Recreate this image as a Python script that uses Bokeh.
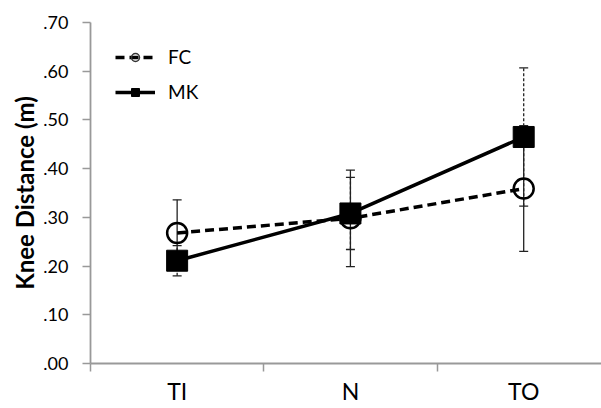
import numpy as np
from bokeh.plotting import figure
from bokeh.models import (ColumnDataSource, Whisker, TeeHead, FixedTicker,
                          Range1d, Legend, LegendItem)
from bokeh.embed import file_html
from bokeh.resources import INLINE

# ---- data ----
categories = ["TI", "N", "TO"]
fc_mean = [0.268, 0.298, 0.359]
fc_err = [0.068, 0.099, 0.129]
mk_mean = [0.211, 0.308, 0.465]
mk_err = [0.031, 0.074, 0.142]
y_ticks = [0.0, 0.1, 0.2, 0.3, 0.4, 0.5, 0.6, 0.7]
y_tick_labels = [".00", ".10", ".20", ".30", ".40", ".50", ".60", ".70"]
y_label = "Knee Distance (m)"

FONT = "Lato"
xs = list(range(len(categories)))

fc_src = ColumnDataSource(dict(
    x=xs, y=fc_mean,
    upper=[m + e for m, e in zip(fc_mean, fc_err)],
    lower=[m - e for m, e in zip(fc_mean, fc_err)]))
mk_src = ColumnDataSource(dict(
    x=xs, y=mk_mean,
    upper=[m + e for m, e in zip(mk_mean, mk_err)],
    lower=[m - e for m, e in zip(mk_mean, mk_err)]))

p = figure(width=601, height=408, output_backend="svg", toolbar_location=None,
           x_range=Range1d(-0.5, 2.449), y_range=Range1d(0, 0.7),
           min_border_left=90, min_border_right=0, min_border_top=22,
           min_border_bottom=45)
p.outline_line_color = None
p.grid.visible = False
p.background_fill_color = "white"

# error bars
for src, dash in ((fc_src, "solid"), (mk_src, "3 2")):
    w = Whisker(source=src, base="x", upper="upper", lower="lower",
                dimension="height", line_color="#222222", line_width=1.3,
                line_dash=dash, level="underlay",
                upper_head=TeeHead(size=9, line_color="#222222", line_width=1.3),
                lower_head=TeeHead(size=9, line_color="#222222", line_width=1.3))
    p.add_layout(w)

# lines
p.line("x", "y", source=fc_src, line_color="black", line_width=3.5,
       line_dash="9 5")
p.line("x", "y", source=mk_src, line_color="black", line_width=3.5)

# markers
p.scatter("x", "y", source=fc_src, marker="circle", size=20,
          fill_color=None, line_color="black", line_width=2.5)
p.scatter("x", "y", source=mk_src, marker="square", size=21,
          fill_color="black", line_color="black")

# legend proxies
nan = np.array([np.nan])
lf = p.line(nan, nan, line_color="black", line_width=3.5, line_dash="9 5")
sf = p.scatter(nan, nan, marker="circle", size=13, fill_color=None,
               line_color="#333333", line_width=1.5)
lm = p.line(nan, nan, line_color="black", line_width=3.5)
sm = p.scatter(nan, nan, marker="square", size=13, fill_color="black",
               line_color="black")
legend = Legend(items=[LegendItem(label="FC", renderers=[lf, sf]),
                       LegendItem(label="MK", renderers=[lm, sm])],
                location=(25, 260), padding=0, margin=0, spacing=12,
                glyph_width=40, glyph_height=20, label_height=20,
                label_standoff=13, border_line_color=None,
                background_fill_alpha=0, label_text_font=FONT,
                label_text_font_size="19px", label_text_color="black")
p.add_layout(legend)

# x axis
xa = p.xaxis[0]
xa.ticker = FixedTicker(ticks=xs, minor_ticks=[-0.5, 0.5, 1.5, 2.5])
xa.major_label_overrides = {i: c for i, c in zip(xs, categories)}
xa.major_tick_line_color = None
xa.major_tick_out = 0
xa.major_tick_in = 0
xa.minor_tick_line_color = "#999999"
xa.minor_tick_line_width = 1.5
xa.minor_tick_in = 0
xa.minor_tick_out = 8
xa.axis_line_color = "#999999"
xa.axis_line_width = 1.8
xa.major_label_text_font = FONT
xa.major_label_text_font_size = "23px"
xa.major_label_text_color = "black"
xa.major_label_standoff = 5

# y axis
ya = p.yaxis[0]
ya.ticker = FixedTicker(ticks=y_ticks)
ya.major_label_overrides = {t: l for t, l in zip(y_ticks, y_tick_labels)}
ya.minor_tick_line_color = None
ya.major_tick_line_color = "#999999"
ya.major_tick_line_width = 1.5
ya.major_tick_in = 0
ya.major_tick_out = 8
ya.axis_line_color = "#999999"
ya.axis_line_width = 1.8
ya.major_label_text_font = FONT
ya.major_label_text_font_size = "18px"
ya.major_label_text_color = "black"
ya.major_label_standoff = 14
ya.axis_label = y_label
ya.axis_label_text_font = FONT
ya.axis_label_text_font_style = "bold"
ya.axis_label_text_font_size = "24px"
ya.axis_label_text_color = "black"
ya.axis_label_standoff = 1

open("out.html", "w").write(file_html(p, INLINE))
